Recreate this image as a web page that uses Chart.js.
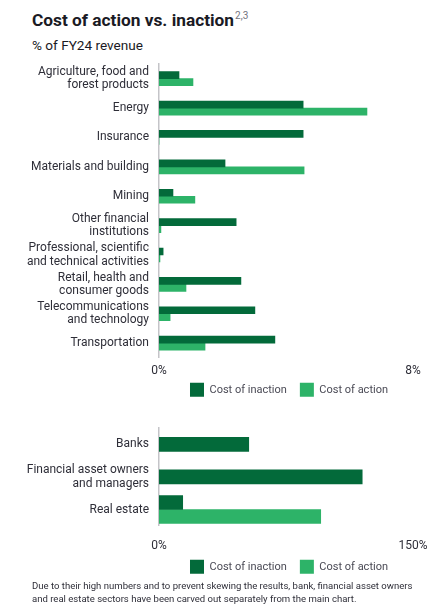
<!DOCTYPE html>
<html>
<head>
<meta charset="utf-8">
<script src="https://cdn.jsdelivr.net/npm/chart.js@4"></script>
<style>
  html, body { margin: 0; padding: 0; background: #fff; }
  body { width: 443px; height: 616px; position: relative; overflow: hidden; font-family: Roboto, "Liberation Sans", sans-serif; color: #2e2e38; }
  #title { position: absolute; left: 32px; top: 10px; font-size: 17.3px; font-weight: 700; color: #1a1a24; white-space: nowrap; }
  #title sup { font-size: 10px; font-weight: 400; color: #747480; vertical-align: 0; position: relative; top: -7px; margin-left: 1px; }
  #subtitle { position: absolute; left: 32px; top: 37px; font-size: 13.6px; color: #1a1a24; white-space: nowrap; }
  #foot { position: absolute; left: 32px; top: 580px; font-size: 9.55px; line-height: 12.5px; color: #2e2e38; width: 410px; white-space: nowrap; }
  .wrap { position: absolute; left: 0; width: 443px; }
  #w1 { top: 56px; height: 366px; }
  #w2 { top: 420px; height: 184px; }
</style>
</head>
<body>
<div class="wrap" id="w1"><canvas id="c1"></canvas></div>
<div class="wrap" id="w2"><canvas id="c2"></canvas></div>
<div id="title">Cost of action vs. inaction<sup>2,3</sup></div>
<div id="subtitle">% of FY24 revenue</div>
<div id="foot">Due to their high numbers and to prevent skewing the results, bank, financial asset owners<br>and real estate sectors have been carved out separately from the main chart.</div>
<script>
// ---- Data ----
const seriesNames = ['Cost of inaction', 'Cost of action'];

const categories = [
  ['Agriculture, food and', 'forest products'],
  'Energy',
  'Insurance',
  'Materials and building',
  'Mining',
  ['Other financial', 'institutions'],
  ['Professional, scientific', 'and technical activities'],
  ['Retail, health and', 'consumer goods'],
  ['Telecommunications', 'and technology'],
  'Transportation'
];
const inaction = [0.63, 4.54, 4.54, 2.08, 0.44, 2.43, 0.13, 2.58, 3.02, 3.65];
const action   = [1.07, 6.55, 0,    4.57, 1.13, 0.06, 0.03, 0.85, 0.35, 1.45];
const xTicks1 = [0, 8];

const carvedCategories = ['Banks', ['Financial asset owners', 'and managers'], 'Real estate'];
const carvedInaction = [53, 120, 14];
const carvedAction   = [null, null, 95.5];
const xTicks2 = [0, 150];

// ---- Styles ----
const DARK = '#036a3a';
const LIGHT = '#2db368';
const TEXT = '#2e2e38';
const LEG = '#4a4a55';
const AXIS = '#c4c4c8';
const FONT = { family: 'Roboto, "Liberation Sans", sans-serif', size: 12, lineHeight: 1.1 };
const LFONT = { family: 'Roboto, "Liberation Sans", sans-serif', size: 11 };

// places the legend a fixed distance below the plot area
const legendPlacer = {
  id: 'legendPlacer',
  afterLayout(chart, args, opts) {
    const lg = chart.legend;
    if (!lg) return;
    const h = lg.bottom - lg.top;
    lg.top = chart.chartArea.bottom + opts.gap;
    lg.bottom = lg.top + h;
    lg.left += opts.dx; lg.right += opts.dx;
  }
};

function makeChart(canvasId, cats, d1, d2, ticks, cfg) {
  return new Chart(document.getElementById(canvasId), {
    type: 'bar',
    data: {
      labels: cats,
      datasets: [
        { label: seriesNames[0], data: d1, backgroundColor: DARK, barThickness: cfg.thickness, skipNull: cfg.skipNull },
        { label: seriesNames[1], data: d2, backgroundColor: LIGHT, barThickness: cfg.thickness, skipNull: cfg.skipNull }
      ]
    },
    plugins: [legendPlacer],
    options: {
      indexAxis: 'y',
      responsive: true,
      maintainAspectRatio: false,
      animation: false,
      layout: { padding: { left: 0, right: 30, top: cfg.top, bottom: 0 } },
      plugins: {
        tooltip: { enabled: false },
        legendPlacer: { gap: cfg.gap, dx: 3 },
        legend: {
          position: 'bottom',
          fullSize: false,
          labels: {
            boxWidth: 14, boxHeight: 14, padding: 13,
            color: LEG, font: LFONT
          }
        }
      },
      scales: {
        x: {
          min: ticks[0], max: ticks[ticks.length - 1],
          grid: { display: false, drawTicks: false },
          border: { display: false },
          afterBuildTicks: (s) => { s.ticks = ticks.map(v => ({ value: v })); },
          afterFit: (s) => { s.paddingLeft = 0; s.paddingRight = 0; },
          ticks: { padding: cfg.tickPad, color: TEXT, font: FONT, maxRotation: 0, callback: (v) => v + '%' }
        },
        y: {
          grid: { display: false, drawTicks: false },
          border: { display: true, color: AXIS, width: 1.5 },
          afterFit: (s) => { s.width = 159; s.paddingTop = 0; s.paddingBottom = 0; },
          ticks: { padding: 10, color: TEXT, font: FONT, autoSkip: false }
        }
      }
    }
  });
}

makeChart('c1', categories, inaction, action, xTicks1, { thickness: 7, skipNull: false, top: 8, tickPad: 7, gap: 12 });
makeChart('c2', carvedCategories, carvedInaction, carvedAction, xTicks2, { thickness: 14, skipNull: true, top: 8, tickPad: 14, gap: 21 });
</script>
</body>
</html>
